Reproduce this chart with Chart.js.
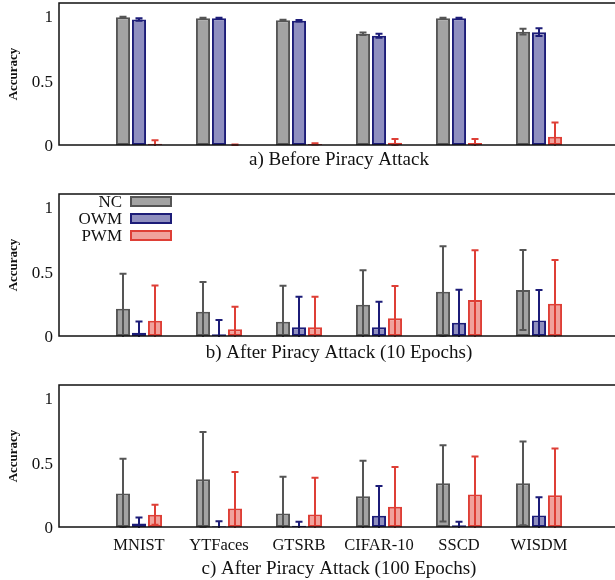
<!DOCTYPE html>
<html lang="en">
<head>
    <meta charset="UTF-8">
    <title>Accuracy before and after piracy attack</title>
    <style>
        html, body {
            margin: 0;
            padding: 0;
            background: #fff;
        }
        body {
            width: 615px;
            height: 580px;
            overflow: hidden;
            position: relative;
        }
        .panel {
            position: absolute;
            left: 0;
            width: 619px;
        }
    </style>
</head>
<body>
    <div class="panel" style="top:0px;height:171px;"><canvas id="chartA"></canvas></div>
    <div class="panel" style="top:191px;height:173px;"><canvas id="chartB"></canvas></div>
    <div class="panel" style="top:382px;height:198px;"><canvas id="chartC"></canvas></div>
    <script src="https://cdn.jsdelivr.net/npm/chart.js"></script>
    <script>
        const categories = ['MNIST', 'YTFaces', 'GTSRB', 'CIFAR-10', 'SSCD', 'WISDM'];
        const seriesNames = ['NC', 'OWM', 'PWM'];
        const yTicks = [0, 0.5, 1];

        // a) before piracy attack
        const ncBefore = [0.99, 0.982, 0.966, 0.862, 0.982, 0.878];
        const ncBeforeErr = [0.003, 0.003, 0.004, 0.01, 0.003, 0.022];
        const owmBefore = [0.972, 0.982, 0.963, 0.846, 0.982, 0.874];
        const owmBeforeErr = [0.01, 0.004, 0.006, 0.016, 0.003, 0.03];
        const pwmBefore = [0.01, 0.002, 0.008, 0.018, 0.016, 0.064];
        const pwmBeforeErr = [0.026, 0.002, 0.005, 0.028, 0.03, 0.11];

        // b) after piracy attack, 10 epochs
        const nc10 = [0.211, 0.188, 0.111, 0.242, 0.343, 0.356];
        const nc10Err = [0.271, 0.23, 0.278, 0.268, 0.353, 0.31];
        const owm10 = [0.026, 0.013, 0.067, 0.067, 0.103, 0.121];
        const owm10Err = [0.087, 0.111, 0.237, 0.198, 0.255, 0.235];
        const pwm10 = [0.119, 0.052, 0.067, 0.137, 0.278, 0.25];
        const pwm10Err = [0.273, 0.175, 0.237, 0.25, 0.387, 0.338];

        // c) after piracy attack, 100 epochs
        const nc100 = [0.259, 0.369, 0.105, 0.238, 0.338, 0.338];
        const nc100Err = [0.269, 0.367, 0.285, 0.275, 0.295, 0.324];
        const owm100 = [0.028, 0.005, 0.01, 0.087, 0.013, 0.09];
        const owm100Err = [0.046, 0.039, 0.031, 0.231, 0.028, 0.141];
        const pwm100 = [0.095, 0.144, 0.097, 0.156, 0.251, 0.246];
        const pwm100Err = [0.078, 0.282, 0.285, 0.308, 0.295, 0.362];

        const fills = ['#a3a3a3', '#8f8fbf', '#f0a29c'];
        const borders = ['#555555', '#1c1c78', '#de3f36'];
        const serif = 'Liberation Serif';

        // pad with an empty slot on each side so the groups sit like the original
        const pad = arr => [null, ...arr, null];
        const xLabels = ['', ...categories, ''];

        const errorBars = {
            id: 'errorBars',
            afterDatasetsDraw(chart) {
                const { ctx, chartArea, scales: { y } } = chart;
                ctx.save();
                ctx.beginPath();
                ctx.rect(chartArea.left, chartArea.top, chartArea.width, chartArea.height + 1);
                ctx.clip();
                chart.data.datasets.forEach((ds, di) => {
                    const meta = chart.getDatasetMeta(di);
                    meta.data.forEach((bar, i) => {
                        const v = ds.data[i], e = ds.errors[i];
                        if (v == null || e == null) return;
                        const top = y.getPixelForValue(v + e);
                        const bot = y.getPixelForValue(v - e);
                        ctx.strokeStyle = ds.borderColor;
                        ctx.lineWidth = 2;
                        ctx.beginPath();
                        ctx.moveTo(bar.x, top); ctx.lineTo(bar.x, bot);
                        ctx.moveTo(bar.x - 3.5, top); ctx.lineTo(bar.x + 3.5, top);
                        ctx.moveTo(bar.x - 3.5, bot); ctx.lineTo(bar.x + 3.5, bot);
                        ctx.stroke();
                    });
                });
                ctx.restore();
            }
        };

        const frame = {
            id: 'frame',
            afterDraw(chart) {
                const { ctx, chartArea } = chart;
                ctx.save();
                ctx.strokeStyle = '#111';
                ctx.lineWidth = 1.5;
                ctx.strokeRect(chartArea.left, chartArea.top, chartArea.width, chartArea.height);
                ctx.restore();
            }
        };

        const boxLegend = {
            id: 'boxLegend',
            afterDraw(chart) {
                if (!chart.options.plugins.boxLegend.show) return;
                const { ctx } = chart;
                ctx.save();
                ctx.font = '17px "' + serif + '"';
                ctx.textAlign = 'right';
                ctx.textBaseline = 'middle';
                chart.data.datasets.forEach((ds, i) => {
                    const yc = 10.5 + i * 17;
                    ctx.fillStyle = '#111';
                    ctx.fillText(ds.label, 122, yc + 1);
                    ctx.fillStyle = ds.backgroundColor;
                    ctx.fillRect(131, yc - 4.5, 40, 9);
                    ctx.strokeStyle = ds.borderColor;
                    ctx.lineWidth = 2;
                    ctx.strokeRect(131, yc - 4.5, 40, 9);
                });
                ctx.restore();
            }
        };

        function noPad(scale) {
            scale.paddingTop = 0;
            scale.paddingBottom = 0;
            scale.paddingLeft = 0;
            scale.paddingRight = 0;
        }

        function makePanel(id, series, errs, title, showTicks, showLegend, xHeight) {
            new Chart(document.getElementById(id), {
                type: 'bar',
                data: {
                    labels: xLabels,
                    datasets: series.map((s, i) => ({
                        label: seriesNames[i],
                        data: pad(s),
                        errors: pad(errs[i]),
                        backgroundColor: fills[i],
                        borderColor: borders[i],
                        borderWidth: 2,
                        borderSkipped: false,
                        categoryPercentage: 0.6,
                        barPercentage: 0.88
                    }))
                },
                options: {
                    responsive: true,
                    maintainAspectRatio: false,
                    animation: false,
                    layout: { padding: { top: 3, left: 0, right: 0, bottom: 0 } },
                    plugins: {
                        legend: { display: false },
                        tooltip: { enabled: false },
                        boxLegend: { show: showLegend }
                    },
                    scales: {
                        x: {
                            type: 'category',
                            offset: false,
                            grid: { display: false, drawTicks: false },
                            border: { display: false },
                            ticks: {
                                display: showTicks,
                                autoSkip: false,
                                maxRotation: 0,
                                padding: 9,
                                color: '#111',
                                font: { family: serif, size: 16.5 }
                            },
                            title: {
                                display: true,
                                text: title,
                                color: '#111',
                                padding: 0,
                                font: { family: serif, size: 19 }
                            },
                            afterFit(scale) {
                                scale.height = xHeight;
                                noPad(scale);
                            }
                        },
                        y: {
                            min: 0,
                            max: 1.1,
                            grid: { display: false, drawTicks: false },
                            border: { display: false },
                            afterBuildTicks(scale) {
                                scale.ticks = yTicks.map(v => ({ value: v }));
                            },
                            ticks: {
                                padding: 6,
                                labelOffset: 2,
                                color: '#111',
                                font: { family: serif, size: 17 },
                                callback: v => String(v)
                            },
                            title: {
                                display: true,
                                text: 'Accuracy',
                                color: '#111',
                                padding: { top: 6, bottom: 0 },
                                font: { family: serif, size: 13, weight: 'bold' }
                            },
                            afterFit(scale) {
                                scale.width = 59;
                                noPad(scale);
                            }
                        }
                    }
                },
                plugins: [errorBars, frame, boxLegend]
            });
        }

        makePanel('chartA', [ncBefore, owmBefore, pwmBefore], [ncBeforeErr, owmBeforeErr, pwmBeforeErr],
            'a) Before Piracy Attack', false, false, 26);
        makePanel('chartB', [nc10, owm10, pwm10], [nc10Err, owm10Err, pwm10Err],
            'b) After Piracy Attack (10 Epochs)', false, true, 28);
        makePanel('chartC', [nc100, owm100, pwm100], [nc100Err, owm100Err, pwm100Err],
            'c) After Piracy Attack (100 Epochs)', true, false, 53);
    </script>
</body>
</html>
